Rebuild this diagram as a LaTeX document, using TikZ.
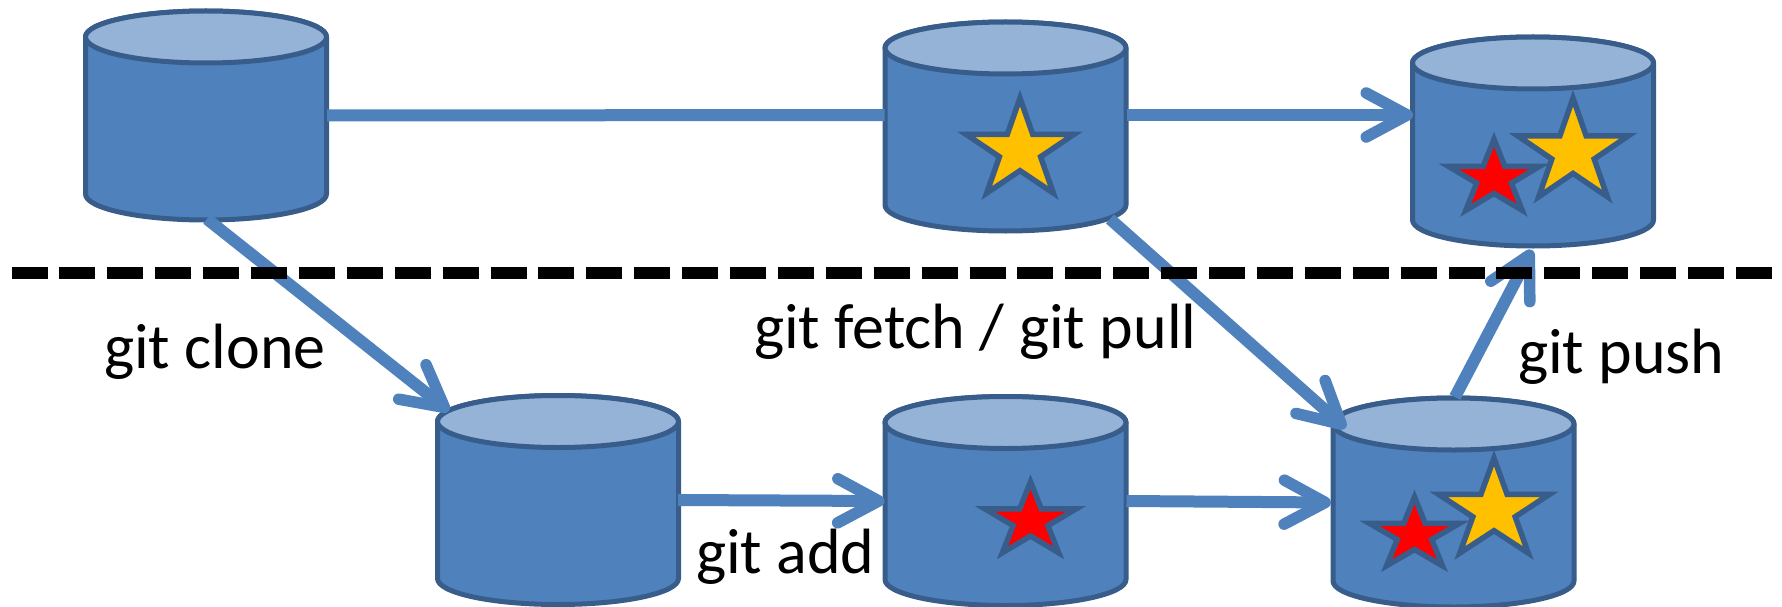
\documentclass[tikz,border=0pt]{standalone}
\usepackage{fontspec}
\setmainfont{Carlito}
\usetikzlibrary{shapes.geometric,arrows.meta}
\definecolor{cylfill}{HTML}{4F81BD}
\definecolor{cylline}{HTML}{385D8A}
\definecolor{cyltop}{HTML}{95B3D7}
\definecolor{stargold}{HTML}{FFC000}
\definecolor{starred}{HTML}{FF0000}
\tikzset{
  repobox/.style={shape=rectangle, minimum width=241pt, minimum height=209pt,
    inner sep=0pt, outer sep=0pt},
  repoline/.style={draw=cylline, line width=5pt, line join=round},
  starmark/.style={shape=star, star points=5, star point ratio=2.618, draw=cylline,
    line width=5.5pt, inner sep=0pt, outer sep=0pt, transform shape},
  link/.style={draw=cylfill, line width=12pt},
  flow/.style={link, -{Straight Barb[length=41pt,width=44pt,round,line width=11.5pt]}},
  divider/.style={draw=black, line width=11.5pt, dash pattern=on 36pt off 11.9pt},
  cmd/.style={anchor=base west, inner sep=0pt, outer sep=0pt, font=\fontsize{64}{66}\selectfont}
}
\newcommand{\repoat}[3]{%
  \node[repobox] (#1) at (#2,#3) {};
  \draw[repoline, fill=cylfill] ([shift={(-120.5,-78.5)}]#1.center)
    -- ([shift={(-120.5,78.5)}]#1.center)
    arc[start angle=180, end angle=360, x radius=120.5pt, y radius=26pt]
    -- ([shift={(120.5,-78.5)}]#1.center)
    arc[start angle=0, end angle=180, x radius=120.5pt, y radius=26pt] -- cycle;
  \draw[repoline, fill=cyltop] ([shift={(0,-78.5)}]#1.center)
    ellipse[x radius=120.5pt, y radius=26pt];
}
\begin{document}
\begin{tikzpicture}[x=1pt,y=-1pt]
\useasboundingbox (0,0) rectangle (1782,607);
\repoat{c1}{206}{115.5}
\repoat{c2}{1005.5}{126.5}
\repoat{c3}{1533}{141.5}
\repoat{c4}{558}{500}
\repoat{c5}{1005.5}{501}
\repoat{c6}{1453.5}{502.5}
\node[starmark, fill=stargold, minimum size=105pt, xscale=1.08] (s1) at (1020,150.6) {};
\node[starmark, fill=starred, minimum size=78.5pt, xscale=1.22] (s2) at (1494,178.5) {};
\node[starmark, fill=stargold, minimum size=109pt, xscale=1.07] (s3) at (1573,152.6) {};
\node[starmark, fill=starred, minimum size=78.5pt, xscale=1.22] (s4) at (1030.5,521) {};
\node[starmark, fill=starred, minimum size=76pt, xscale=1.25] (s5) at (1414.5,535) {};
\node[starmark, fill=stargold, minimum size=105pt, xscale=1.11] (s6) at (1494,510.6) {};
\draw[link] ([shift={(121,0)}]c1.center) -- ([shift={(-121,-11.5)}]c2.center);
\draw[flow] ([shift={(121,-11.5)}]c2.center) -- ([shift={(-120,-26.5)}]c3.center);
\draw[flow] ([shift={(1,103.5)}]c1.center) -- ([shift={(-109,-89)}]c4.center);
\draw[flow] ([shift={(120,0)}]c4.center) -- ([shift={(-121,0)}]c5.center);
\draw[flow] ([shift={(121,0)}]c5.center) -- ([shift={(-122.5,0)}]c6.center);
\draw[flow] ([shift={(104.5,92.5)}]c2.center) -- ([shift={(-108,-74.5)}]c6.center);
\draw[flow] ([shift={(1.5,-105.5)}]c6.center) -- ([shift={(-1,108.5)}]c3.center);
\coordinate (dashL) at (11.5,273);
\coordinate (dashR) at (1776,273);
\draw[divider] (dashL) -- (dashR);
\node[cmd] (t1) at (104,368) {git clone};
\node[cmd] (t2) at (754,348) {git fetch / git pull};
\node[cmd] (t3) at (696,573) {git add};
\node[cmd] (t4) at (1518,373) {git push};
\end{tikzpicture}
\end{document}
